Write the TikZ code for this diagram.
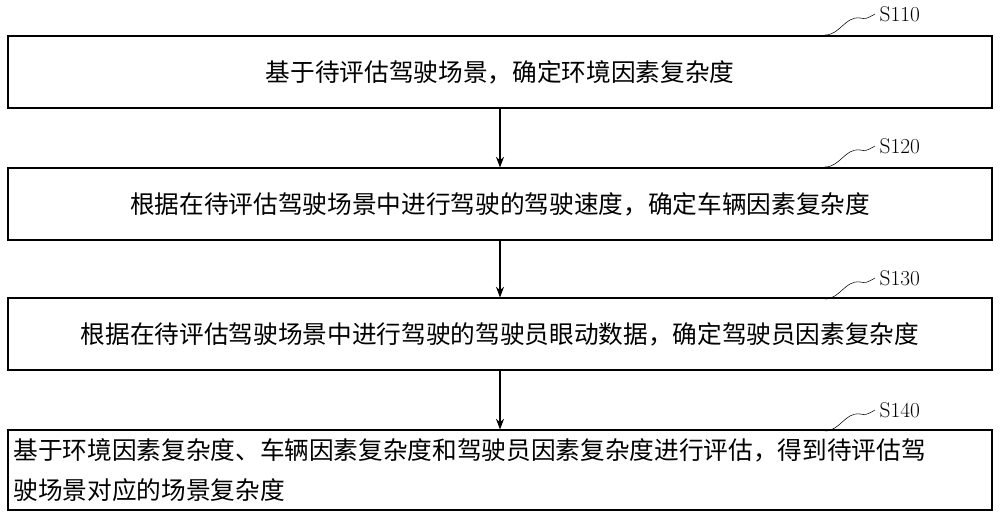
\documentclass[tikz,border=0pt]{standalone}
\usepackage{fontspec}
\newfontfamily\cjk{Noto Sans CJK SC}
\usetikzlibrary{arrows.meta,positioning}
\tikzset{
    stepbox/.style = {rectangle,
                    draw=black,
                    thick,
                    minimum width=738pt,
                    minimum height=54pt,
                    inner sep=4pt,
                    font=\cjk\fontsize{18.5}{30}\selectfont},
    tag/.style =    {font=\fontsize{16}{18}\selectfont},
    wave/.style =   {thin},
    >={Stealth[length=8pt,width=6pt]}}
\begin{document}
\begin{tikzpicture}[x=0.75pt,y=-0.75pt]
    \useasboundingbox (0,0) rectangle (1000,515);
    \node[stepbox] (s1) at (500,72)  {基于待评估驾驶场景，确定环境因素复杂度};
    \node[stepbox] (s2) at (500,204) {根据在待评估驾驶场景中进行驾驶的驾驶速度，确定车辆因素复杂度};
    \node[stepbox] (s3) at (500,334) {根据在待评估驾驶场景中进行驾驶的驾驶员眼动数据，确定驾驶员因素复杂度};
    \node[stepbox,minimum height=60pt,text width=730pt,inner sep=2pt,align=left] (s4) at (500,470)
        {基于环境因素复杂度、车辆因素复杂度和驾驶员因素复杂度进行评估，得到待评估驾\\驶场景对应的场景复杂度};

    \draw[thick,->] (s1) -- (s2);
    \draw[thick,->] (s2) -- (s3);
    \draw[thick,->] (s3) -- (s4);

    % step tags
    \foreach \n/\y/\t in {1/14/S110,2/146/S120,3/278/S130,4/410/S140}{
        \node[tag,anchor=west] (t\n) at (875,\y) {\t};
        \draw[wave] (825,\y+21) .. controls (840,\y+21) and (845,\y+2) .. (860,\y+4)
                    .. controls (866,\y+5) .. (t\n.west);
    }
\end{tikzpicture}
\end{document}
